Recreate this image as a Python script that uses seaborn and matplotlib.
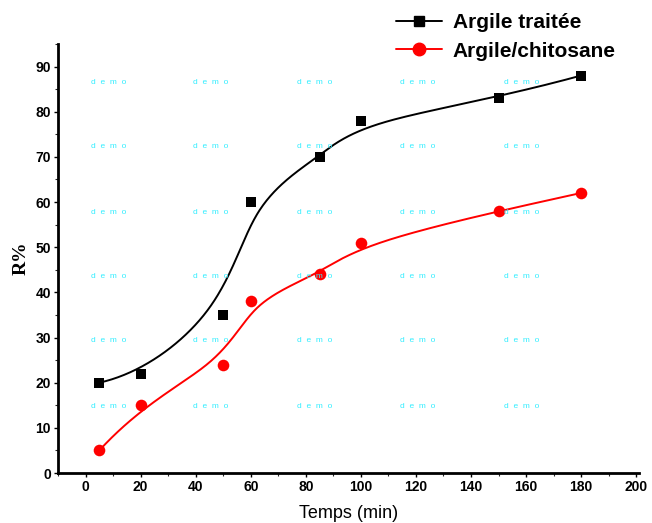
import numpy as np
import pandas as pd
import seaborn as sns
import matplotlib
matplotlib.use("Agg")
import matplotlib.pyplot as plt
from matplotlib.lines import Line2D
from matplotlib.ticker import MultipleLocator

# ---- data ----
temps = [5, 20, 50, 60, 85, 100, 150, 180]
r_traitee = [20, 22, 35, 60, 70, 78, 83, 88]
r_chitosane = [5, 15, 24, 38, 44, 51, 58, 62]
series_names = ["Argile traitée", "Argile/chitosane"]
x_ticks = [0, 20, 40, 60, 80, 100, 120, 140, 160, 180, 200]
y_ticks = [0, 10, 20, 30, 40, 50, 60, 70, 80, 90]


def bspline_curve(xs, ys, n=300, k=3):
    """Clamped cubic B-spline using data points as control points (Origin-style B-spline connector)."""
    P = np.column_stack([xs, ys]).astype(float)
    m = len(P)
    inner = np.arange(1, m - k)
    knots = np.concatenate([np.zeros(k + 1), inner, np.full(k + 1, m - k)]).astype(float)
    t = np.linspace(0, m - k, n)
    t[-1] -= 1e-9
    N = np.zeros((n, len(knots) - 1))
    for i in range(len(knots) - 1):
        N[:, i] = ((t >= knots[i]) & (t < knots[i + 1])).astype(float)
    for d in range(1, k + 1):
        Nn = np.zeros((n, len(knots) - 1 - d))
        for i in range(len(knots) - 1 - d):
            a = knots[i + d] - knots[i]
            b = knots[i + d + 1] - knots[i + 1]
            term1 = (t - knots[i]) / a * N[:, i] if a > 0 else 0
            term2 = (knots[i + d + 1] - t) / b * N[:, i + 1] if b > 0 else 0
            Nn[:, i] = term1 + term2
        N = Nn
    C = N @ P
    return C[:, 0], C[:, 1]


sns.set_theme(style="white")
plt.rcParams["font.family"] = ["Liberation Sans", "DejaVu Sans"]
plt.rcParams["text.color"] = "black"
plt.rcParams["axes.labelcolor"] = "black"

fig = plt.figure(figsize=(6.52, 5.23), dpi=100)
ax = fig.add_axes([0.089, 0.0956, 0.891, 0.8204])

# watermark text
for fy in [83, 147, 212, 277, 341, 406]:
    for fx in [91, 193, 297, 400, 504]:
        fig.text(fx / 652, 1 - fy / 523, "d  e  m  o", color="#33eeff", fontsize=6,
                 ha="left", va="center", zorder=0)

colors = ["black", "red"]
markers = ["s", "o"]
msizes = [45, 70]
for ys, c, mk, ms in zip([r_traitee, r_chitosane], colors, markers, msizes):
    cx, cy = bspline_curve(temps, ys)
    sns.lineplot(x=cx, y=cy, sort=False, color=c, lw=1.4, ax=ax, zorder=2)
    sns.scatterplot(x=temps, y=ys, color=c, marker=mk, s=ms, edgecolor=c, linewidth=0,
                    ax=ax, zorder=3)

ax.set_xlim(-10, 201)
ax.set_ylim(0, 95)
ax.set_xticks(x_ticks)
ax.set_yticks(y_ticks)
ax.xaxis.set_minor_locator(MultipleLocator(10))
ax.yaxis.set_minor_locator(MultipleLocator(5))

for s in ["top", "right"]:
    ax.spines[s].set_visible(False)
for s in ["left", "bottom"]:
    ax.spines[s].set_linewidth(2)
    ax.spines[s].set_color("black")

ax.tick_params(axis="both", which="major", direction="out", length=3, width=1,
               labelsize=10, pad=2, colors="black", bottom=True, left=True)
ax.tick_params(axis="both", which="minor", direction="out", length=2, width=0.8,
               bottom=True, left=True)
for lab in ax.get_xticklabels() + ax.get_yticklabels():
    lab.set_fontweight("bold")

ax.set_xlabel("Temps (min)", fontsize=13, color="black", labelpad=8)
ax.set_ylabel("R%", fontsize=14, fontweight="bold", family="Liberation Serif",
              color="black", labelpad=4)
ax.grid(False)

handles = [
    Line2D([], [], color="black", marker="s", markersize=7, lw=1.4),
    Line2D([], [], color="red", marker="o", markersize=9, lw=1.4),
]
leg = fig.legend(handles, series_names, loc="upper left",
                 bbox_to_anchor=(388 / 652, 1 - 5 / 523), frameon=False,
                 prop={"weight": "bold", "size": 15, "family": "Liberation Sans"},
                 handlelength=2.2, handletextpad=0.5, labelspacing=0.45, borderaxespad=0)
for t in leg.get_texts():
    t.set_color("black")

fig.savefig("out.png", dpi=100)
